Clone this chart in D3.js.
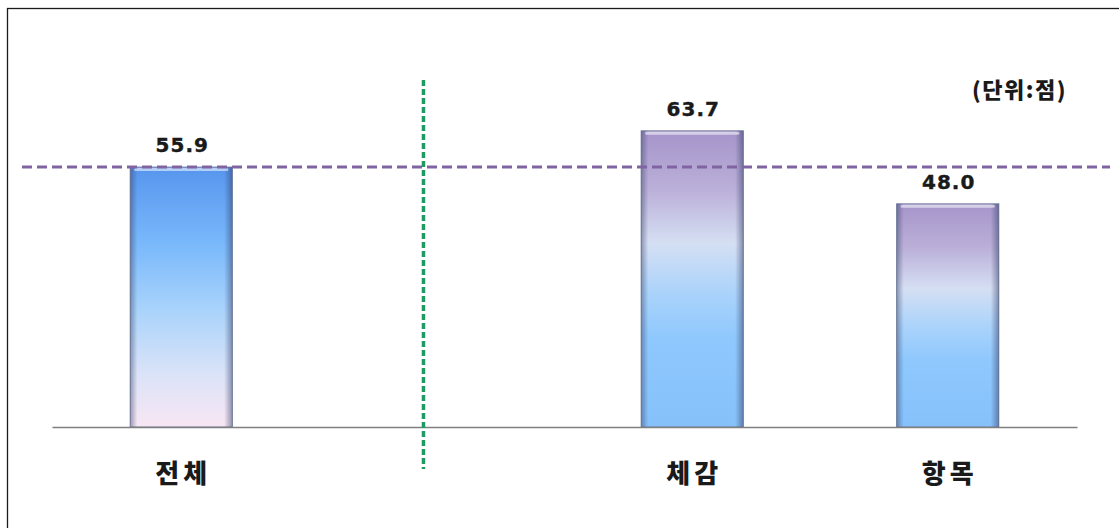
<!DOCTYPE html>
<html>
<head>
<meta charset="utf-8">
<script src="https://cdn.jsdelivr.net/npm/d3@7"></script>
<style>
  html, body { margin: 0; padding: 0; background: #fff; }
  svg { display: block; }
</style>
</head>
<body>
<svg id="chart"></svg>
<script>
// slots on the x axis: the empty one is the gap that holds the divider
const slots = ["전체", "", "체감", "항목"];
const categories = ["전체", "체감", "항목"];
const values = [55.9, 63.7, 48.0];
const barStyle = ["total", "sub", "sub"]; // which gradient each bar uses
const referenceValue = 55.9; // purple dashed line = overall score
const unitLabel = "(단위:점)";

const width = 1119;
const height = 528;

const svg = d3.select("#chart").attr("width", width).attr("height", height);

// outer frame (only top + left edges show in the picture)
svg.append("rect")
  .attr("x", 7.5).attr("y", 8.5)
  .attr("width", width + 20).attr("height", height + 20)
  .attr("fill", "none")
  .attr("stroke", "#1a1a1a")
  .attr("stroke-width", 1.3);

// Scales
const xScale = d3.scaleBand()
  .domain(slots)
  .range([52, 1077])
  .paddingInner(0.6)
  .paddingOuter(0.306);

const yScale = d3.scaleLinear()
  .domain([0, 70])
  .range([427, 101.5]);

// Gradients
const defs = svg.append("defs");

const gTotal = defs.append("linearGradient")
  .attr("id", "grad-total")
  .attr("x1", 0).attr("y1", 0).attr("x2", 0).attr("y2", 1);
[
  [0, "#5795ee"], [0.3, "#7ab9fb"], [0.55, "#a9d3fb"],
  [0.8, "#dbe3f8"], [1, "#f8e6f3"]
].forEach(([o, c]) => gTotal.append("stop").attr("offset", o).attr("stop-color", c));

const gSub = defs.append("linearGradient")
  .attr("id", "grad-sub")
  .attr("x1", 0).attr("y1", 0).attr("x2", 0).attr("y2", 1);
[
  [0, "#a594ca"], [0.2, "#bbb0d9"], [0.38, "#d5dff3"],
  [0.55, "#aad3fb"], [0.7, "#8fc8fd"], [1, "#86c1fb"]
].forEach(([o, c]) => gSub.append("stop").attr("offset", o).attr("stop-color", c));

// edge shading to fake the bevel
const gEdge = defs.append("linearGradient")
  .attr("id", "grad-edge")
  .attr("x1", 0).attr("y1", 0).attr("x2", 1).attr("y2", 0);
[
  [0, "rgba(50,60,100,0.45)"], [0.07, "rgba(50,60,100,0)"],
  [0.92, "rgba(50,60,100,0)"], [1, "rgba(50,60,100,0.5)"]
].forEach(([o, c]) => gEdge.append("stop").attr("offset", o).attr("stop-color", c));

const bars = categories.map((c, i) => ({ cat: c, value: values[i], style: barStyle[i] }));

// Bars
const barG = svg.append("g");
barG.selectAll("rect.bar")
  .data(bars)
  .join("rect")
  .attr("class", "bar")
  .attr("x", d => xScale(d.cat))
  .attr("y", d => yScale(d.value))
  .attr("width", xScale.bandwidth())
  .attr("height", d => yScale(0) - yScale(d.value))
  .attr("fill", d => `url(#grad-${d.style})`)
  .attr("stroke", "#7d8aa6")
  .attr("stroke-width", 1);

barG.selectAll("rect.edge")
  .data(bars)
  .join("rect")
  .attr("class", "edge")
  .attr("x", d => xScale(d.cat))
  .attr("y", d => yScale(d.value))
  .attr("width", xScale.bandwidth())
  .attr("height", d => yScale(0) - yScale(d.value))
  .attr("fill", "url(#grad-edge)");

// top highlight
barG.selectAll("rect.hl")
  .data(bars)
  .join("rect")
  .attr("class", "hl")
  .attr("x", d => xScale(d.cat) + 4)
  .attr("y", d => yScale(d.value) + 1)
  .attr("width", xScale.bandwidth() - 8)
  .attr("height", 3)
  .attr("rx", 1.5)
  .attr("fill", "rgba(255,255,255,0.55)");

// Baseline axis
const xAxis = d3.axisBottom(xScale).tickSize(0).tickFormat(() => "");
svg.append("g")
  .attr("transform", `translate(0,${yScale(0)})`)
  .call(xAxis)
  .call(g => g.select(".domain").attr("stroke", "#7f7f7f").attr("stroke-width", 1.5));

// Reference dashed line (overall score)
svg.append("line")
  .attr("x1", 22).attr("x2", 1110)
  .attr("y1", yScale(referenceValue)).attr("y2", yScale(referenceValue))
  .attr("stroke", "#8064a2")
  .attr("stroke-width", 3)
  .attr("stroke-dasharray", "10,5");

// Green divider in the empty slot
const dividerX = xScale("") + xScale.bandwidth() * 0.37;
svg.append("line")
  .attr("x1", dividerX).attr("x2", dividerX)
  .attr("y1", 80).attr("y2", 469)
  .attr("stroke", "#1f9a62")
  .attr("stroke-width", 3.5)
  .attr("stroke-dasharray", "6,3");

// Value labels
svg.selectAll("text.val")
  .data(bars)
  .join("text")
  .attr("class", "val")
  .attr("x", d => xScale(d.cat) + xScale.bandwidth() / 2 + 1)
  .attr("y", d => yScale(d.value) - 15)
  .attr("text-anchor", "middle")
  .attr("font-family", "'DejaVu Sans', Verdana, sans-serif")
  .attr("font-weight", "bold")
  .attr("font-size", 20)
  .attr("letter-spacing", 1)
  .attr("stroke", "#1a1a1a")
  .attr("stroke-width", 0.4)
  .attr("fill", "#1a1a1a")
  .text(d => d.value.toFixed(1));

// Category labels
svg.selectAll("text.cat")
  .data(bars)
  .join("text")
  .attr("class", "cat")
  .attr("x", d => xScale(d.cat) + xScale.bandwidth() / 2 + 2)
  .attr("y", 483)
  .attr("text-anchor", "middle")
  .attr("font-family", "'Noto Sans CJK KR', sans-serif")
  .attr("font-weight", 900)
  .attr("font-size", 26)
  .attr("letter-spacing", 4)
  .attr("fill", "#1a1a1a")
  .text(d => d.cat);

// Unit label
svg.append("text")
  .attr("x", 1067)
  .attr("y", 98)
  .attr("text-anchor", "end")
  .attr("font-family", "'Noto Sans CJK KR', sans-serif")
  .attr("font-weight", 900)
  .attr("font-size", 22)
  .attr("letter-spacing", 1.5)
  .attr("fill", "#1a1a1a")
  .text(unitLabel);
</script>
</body>
</html>
